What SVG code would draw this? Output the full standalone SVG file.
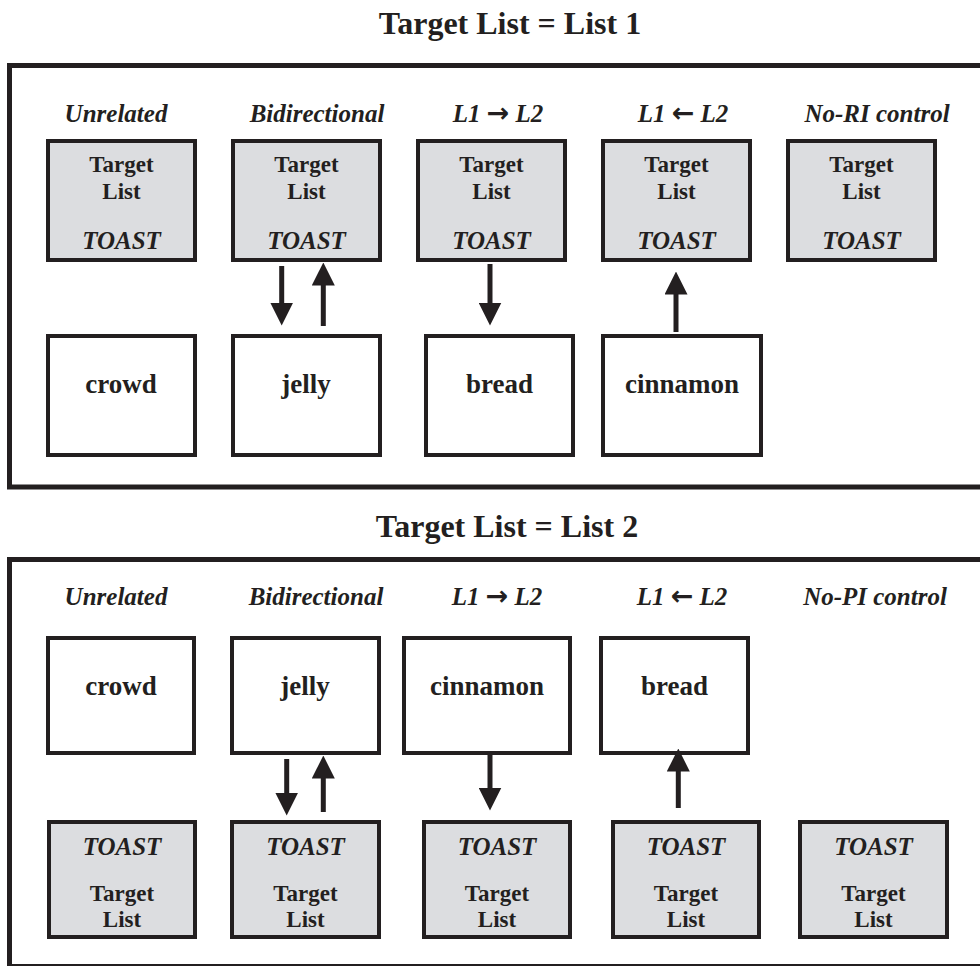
<svg xmlns="http://www.w3.org/2000/svg" width="980" height="966" viewBox="0 0 980 966">
<style>
  .panel { fill: #ffffff; stroke: #231f20; stroke-width: 5; }
  .gray { fill: #dcdde0; stroke: #231f20; stroke-width: 4; }
  .white { fill: #ffffff; stroke: #231f20; stroke-width: 4; }
  text { font-family: "Liberation Serif", "Times New Roman", serif; fill: #231f20; text-anchor: middle; }
  .title { font-size: 32px; font-weight: bold; }
  .label { font-size: 25px; font-weight: bold; font-style: italic; }
  .tl { font-size: 23px; font-weight: bold; }
  .toast { font-size: 25px; font-weight: bold; font-style: italic; }
  .word { font-size: 27px; font-weight: bold; }
  .arr { font-family: "DejaVu Sans", sans-serif; font-style: normal; font-weight: bold; font-size: 27px; }
  .shaft { stroke: #231f20; stroke-width: 5; fill: none; marker-end: url(#head); }
</style>
<defs>
  <marker id="head" markerUnits="userSpaceOnUse" markerWidth="23" markerHeight="23" viewBox="0 0 23 23" refX="1" refY="11.5" orient="auto">
    <path d="M0,0 L23,11.5 L0,23 Z" fill="#231f20"/>
  </marker>
</defs>
<rect width="980" height="966" fill="#ffffff"/>

<!-- Panel 1 -->
<g id="panel1">
  <text class="title" x="510" y="34">Target List = List 1</text>
  <rect class="panel" x="9.5" y="65.5" width="985" height="421.5"/>
  <text class="label" x="116" y="122">Unrelated</text>
  <text class="label" x="317" y="122">Bidirectional</text>
  <text class="label" x="498" y="122">L1 <tspan class="arr">→</tspan> L2</text>
  <text class="label" x="683" y="122">L1 <tspan class="arr">←</tspan> L2</text>
  <text class="label" x="877" y="122">No-RI control</text>
</g>

<g id="p1-target-unrelated">
  <rect class="gray" x="48" y="141" width="147" height="119"/>
  <text class="tl" x="121.5" y="172">Target</text>
  <text class="tl" x="121.5" y="199">List</text>
  <text class="toast" x="121.5" y="249">TOAST</text>
</g>
<g id="p1-target-bidirectional">
  <rect class="gray" x="233" y="141" width="147" height="119"/>
  <text class="tl" x="306.5" y="172">Target</text>
  <text class="tl" x="306.5" y="199">List</text>
  <text class="toast" x="306.5" y="249">TOAST</text>
</g>
<g id="p1-target-l1l2">
  <rect class="gray" x="418" y="141" width="147" height="119"/>
  <text class="tl" x="491.5" y="172">Target</text>
  <text class="tl" x="491.5" y="199">List</text>
  <text class="toast" x="491.5" y="249">TOAST</text>
</g>
<g id="p1-target-l2l1">
  <rect class="gray" x="603" y="141" width="147" height="119"/>
  <text class="tl" x="676.5" y="172">Target</text>
  <text class="tl" x="676.5" y="199">List</text>
  <text class="toast" x="676.5" y="249">TOAST</text>
</g>
<g id="p1-target-control">
  <rect class="gray" x="788" y="141" width="147" height="119"/>
  <text class="tl" x="861.5" y="172">Target</text>
  <text class="tl" x="861.5" y="199">List</text>
  <text class="toast" x="861.5" y="249">TOAST</text>
</g>

<g id="p1-crowd">
  <rect class="white" x="48" y="336" width="147" height="119"/>
  <text class="word" x="121" y="393">crowd</text>
</g>
<g id="p1-jelly">
  <rect class="white" x="233" y="336" width="147" height="119"/>
  <text class="word" x="306" y="393">jelly</text>
</g>
<g id="p1-bread">
  <rect class="white" x="426" y="336" width="147" height="119"/>
  <text class="word" x="499.5" y="393">bread</text>
</g>
<g id="p1-cinnamon">
  <rect class="white" x="603" y="336" width="158" height="119"/>
  <text class="word" x="682" y="393">cinnamon</text>
</g>

<!-- Panel 2 -->
<g id="panel2">
  <text class="title" x="507" y="536.5">Target List = List 2</text>
  <rect class="panel" x="9.5" y="559.5" width="985" height="407"/>
  <text class="label" x="116" y="605">Unrelated</text>
  <text class="label" x="316" y="605">Bidirectional</text>
  <text class="label" x="497" y="605">L1 <tspan class="arr">→</tspan> L2</text>
  <text class="label" x="682" y="605">L1 <tspan class="arr">←</tspan> L2</text>
  <text class="label" x="875" y="605">No-PI control</text>
</g>

<g id="p2-crowd">
  <rect class="white" x="48" y="638" width="146" height="115"/>
  <text class="word" x="121" y="695">crowd</text>
</g>
<g id="p2-jelly">
  <rect class="white" x="232" y="638" width="147" height="115"/>
  <text class="word" x="305" y="695">jelly</text>
</g>
<g id="p2-cinnamon">
  <rect class="white" x="404" y="638" width="166" height="115"/>
  <text class="word" x="487" y="695">cinnamon</text>
</g>
<g id="p2-bread">
  <rect class="white" x="601" y="638" width="147" height="115"/>
  <text class="word" x="674.5" y="695">bread</text>
</g>

<g id="p2-target-unrelated">
  <rect class="gray" x="49" y="822" width="146" height="115"/>
  <text class="toast" x="122" y="855">TOAST</text>
  <text class="tl" x="122" y="901">Target</text>
  <text class="tl" x="122" y="927">List</text>
</g>
<g id="p2-target-bidirectional">
  <rect class="gray" x="232" y="822" width="147" height="115"/>
  <text class="toast" x="305.5" y="855">TOAST</text>
  <text class="tl" x="305.5" y="901">Target</text>
  <text class="tl" x="305.5" y="927">List</text>
</g>
<g id="p2-target-l1l2">
  <rect class="gray" x="424" y="822" width="146" height="115"/>
  <text class="toast" x="497" y="855">TOAST</text>
  <text class="tl" x="497" y="901">Target</text>
  <text class="tl" x="497" y="927">List</text>
</g>
<g id="p2-target-l2l1">
  <rect class="gray" x="613" y="822" width="146" height="115"/>
  <text class="toast" x="686" y="855">TOAST</text>
  <text class="tl" x="686" y="901">Target</text>
  <text class="tl" x="686" y="927">List</text>
</g>
<g id="p2-target-control">
  <rect class="gray" x="800" y="822" width="147" height="115"/>
  <text class="toast" x="873.5" y="855">TOAST</text>
  <text class="tl" x="873.5" y="901">Target</text>
  <text class="tl" x="873.5" y="927">List</text>
</g>

<!-- Connectors -->
<g id="connectors">
  <line class="shaft" x1="281.7" y1="266" x2="281.7" y2="303.5"/>
  <line class="shaft" x1="323.3" y1="326" x2="323.3" y2="284.5"/>
  <line class="shaft" x1="490" y1="264" x2="490" y2="303.5"/>
  <line class="shaft" x1="676" y1="332" x2="676" y2="293.5"/>

  <line class="shaft" x1="286.7" y1="759" x2="286.7" y2="793.5"/>
  <line class="shaft" x1="323.3" y1="812" x2="323.3" y2="777.5"/>
  <line class="shaft" x1="490" y1="755" x2="490" y2="788.5"/>
  <line class="shaft" x1="678.3" y1="808" x2="678.3" y2="770.5"/>
</g>
</svg>
